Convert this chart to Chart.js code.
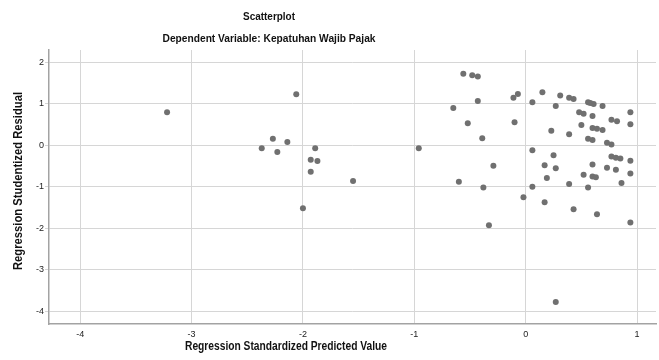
<!DOCTYPE html>
<html>
<head>
<meta charset="utf-8">
<script src="https://cdn.jsdelivr.net/npm/chart.js@4.4.1/dist/chart.umd.min.js"></script>
<style>
  html, body { margin: 0; padding: 0; background: #fff; }
  #wrap { width: 659px; height: 360px; }
</style>
</head>
<body>
<div id="wrap"><canvas id="scatterChart" width="659" height="360"></canvas></div>
<script>
// predicted value (x) and studentized residual (y)
var predicted = [
  -3.22, -2.06, -2.37, -2.27, -2.23, -2.14, -1.89, -1.93, -1.87, -1.93, -2.00, -1.55, -0.96,
  -0.56, -0.48, -0.43, -0.65, -0.43, -0.52, -0.39, -0.11, -0.07, -0.10,
  0.06, 0.15, 0.27, 0.31, 0.39, 0.43, 0.56, 0.58, 0.61, 0.69, 0.94,
  0.48, 0.52, 0.60, 0.50, 0.60, 0.64, 0.69, 0.77, 0.82, 0.94,
  0.23, 0.39, 0.56, 0.60, 0.73, 0.77, 0.06, 0.25, 0.77, 0.81, 0.85, 0.94,
  0.17, 0.27, 0.60, 0.73, 0.81, 0.94, 0.19, 0.52, 0.60, 0.63,
  0.06, 0.39, 0.56, 0.86, 0.17, 0.43, 0.64, 0.94,
  -0.29, -0.60, -0.38, -0.02, -0.33, 0.27
];
var residual = [
  0.80, 1.23, -0.07, 0.16, -0.16, 0.08, -0.07, -0.35, -0.38, -0.64, -1.52, -0.86, -0.07,
  1.73, 1.69, 1.66, 0.90, 1.07, 0.53, 0.17, 1.15, 1.24, 0.56,
  1.04, 1.28, 0.95, 1.20, 1.15, 1.12, 1.04, 1.02, 1.00, 0.95, 0.80,
  0.80, 0.76, 0.71, 0.49, 0.42, 0.40, 0.37, 0.62, 0.58, 0.51,
  0.35, 0.27, 0.16, 0.13, 0.06, 0.02, -0.12, -0.24, -0.27, -0.30, -0.32, -0.37,
  -0.48, -0.55, -0.46, -0.54, -0.59, -0.68, -0.79, -0.71, -0.75, -0.77,
  -1.00, -0.93, -1.02, -0.91, -1.37, -1.54, -1.66, -1.86,
  -0.49, -0.88, -1.02, -1.25, -1.93, -3.78
];
var xTicks = [-4, -3, -2, -1, 0, 1];
var yTicks = [2, 1, 0, -1, -2, -3, -4];

var titleText = 'Scatterplot';
var subtitleText = 'Dependent Variable: Kepatuhan Wajib Pajak';
var xTitle = 'Regression Standardized Predicted Value';
var yTitle = 'Regression Studentized Residual';

var points = predicted.map(function(v, i) {
  return { x: v, y: residual[i] };
});

// text is squeezed a bit sideways in the original, so draw it by hand
function squeezedText(ctx, text, x, y, font, width, rotate) {
  ctx.save();
  ctx.font = font;
  ctx.fillStyle = '#111';
  ctx.textAlign = 'center';
  ctx.textBaseline = 'middle';
  ctx.translate(x, y);
  if (rotate) ctx.rotate(-Math.PI / 2);
  var w = ctx.measureText(text).width;
  ctx.scale(width / w, 1);
  ctx.fillText(text, 0, 0);
  ctx.restore();
}

var titlesPlugin = {
  id: 'titles',
  afterDraw: function(chart) {
    var ctx = chart.ctx;
    squeezedText(ctx, titleText, 269, 17, 'bold 11px "Liberation Sans", Arial', 52);
    squeezedText(ctx, subtitleText, 269, 39, 'bold 11px "Liberation Sans", Arial', 213);
    squeezedText(ctx, xTitle, 286, 347, 'bold 12px "Liberation Sans", Arial', 202);
    squeezedText(ctx, yTitle, 19, 181, 'bold 12px "Liberation Sans", Arial', 178, true);
  }
};

var ctx = document.getElementById('scatterChart').getContext('2d');
var chart = new Chart(ctx, {
  type: 'scatter',
  data: {
    datasets: [{
      data: points,
      backgroundColor: '#707070',
      borderColor: '#707070',
      pointRadius: 3,
      pointHoverRadius: 3,
      borderWidth: 0
    }]
  },
  options: {
    responsive: false,
    animation: false,
    layout: { padding: { top: 50, left: 0, right: 0, bottom: 0 } },
    plugins: {
      legend: { display: false },
      tooltip: { enabled: false }
    },
    scales: {
      x: {
        type: 'linear',
        min: -4.28,
        max: 1.17,
        afterBuildTicks: function(scale) {
          scale.ticks = xTicks.map(function(v) { return { value: v }; });
        },
        afterFit: function(scale) { scale.height = 36; },
        grid: { color: '#d6d6d6', lineWidth: 1, drawTicks: false },
        border: { color: '#a3a3a3', width: 1.5 },
        ticks: {
          padding: 5,
          maxRotation: 0,
          color: '#222',
          font: { family: '"Liberation Sans", Arial', size: 9 }
        }
      },
      y: {
        type: 'linear',
        min: -4.31,
        max: 2.30,
        afterBuildTicks: function(scale) {
          scale.ticks = yTicks.map(function(v) { return { value: v }; });
        },
        afterFit: function(scale) { scale.width = 49; },
        grid: { color: '#d6d6d6', lineWidth: 1, tickLength: 4 },
        border: { color: '#a3a3a3', width: 1.5 },
        ticks: {
          padding: 1,
          color: '#222',
          font: { family: '"Liberation Sans", Arial', size: 9 }
        }
      }
    }
  },
  plugins: [titlesPlugin]
});
</script>
</body>
</html>
